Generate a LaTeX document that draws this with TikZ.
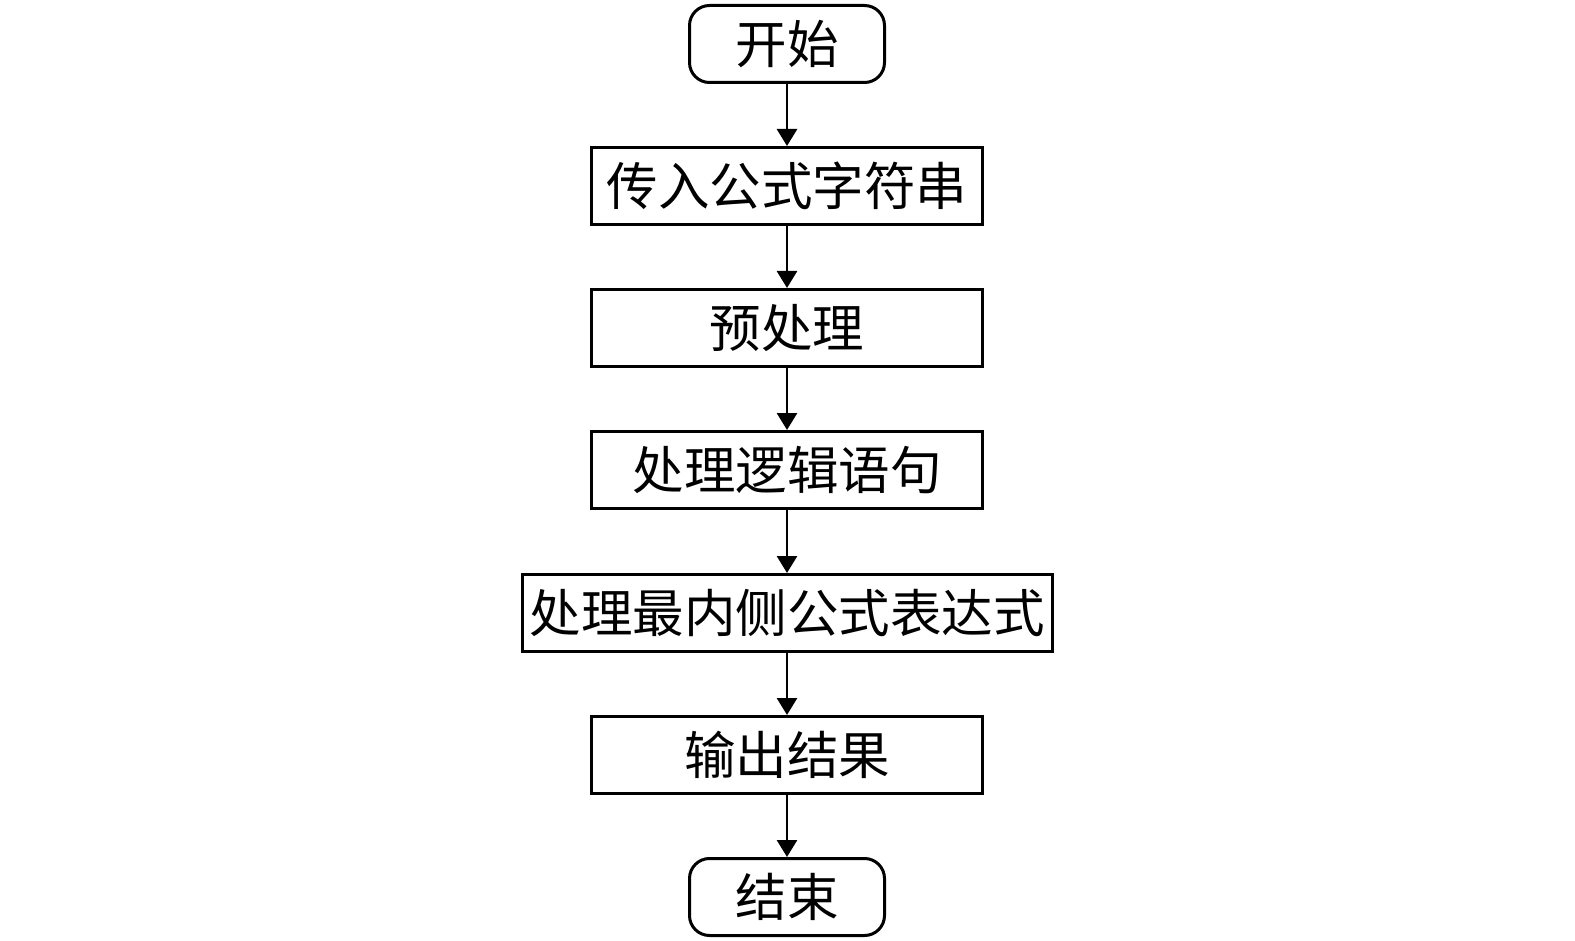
\documentclass[tikz,border=0pt]{standalone}
\usepackage{fontspec}
\newfontfamily\cjk{Noto Sans CJK SC}
\usetikzlibrary{arrows.meta}

\tikzstyle{proc} = [rectangle, draw, line width=3pt, inner sep=0pt, minimum width=391pt, minimum height=77pt, font=\cjk\fontsize{51.5}{52}\selectfont]
\tikzstyle{term} = [proc, rounded corners=20pt, minimum width=195pt]

\begin{document}
\begin{tikzpicture}[x=1pt, y=-1pt, >={Triangle[width=20pt,length=17pt]}]
	\useasboundingbox (0,0) rectangle (1575,941);
	%\draw[help lines] (0,0) grid[step=100] (1575,941);
	
	\node[term] (start) at (787, 44) {开始};
	
	\foreach \n\s\y in {1/传入公式字符串/186, 2/预处理/328, 3/处理逻辑语句/470, 5/输出结果/755}
	\node[proc] (p\n) at (787, \y) {\s};
	
	\node[proc, minimum width=530pt] (p4) at (787, 613) {处理最内侧公式表达式};
	
	\node[term] (stop) at (787, 897) {结束};
	
	\foreach \a\b in {start/p1, p1/p2, p2/p3, p3/p4, p4/p5, p5/stop}
	\draw[->, line width=2.8pt] (\a) -- (\b);
	
\end{tikzpicture}
\end{document}
